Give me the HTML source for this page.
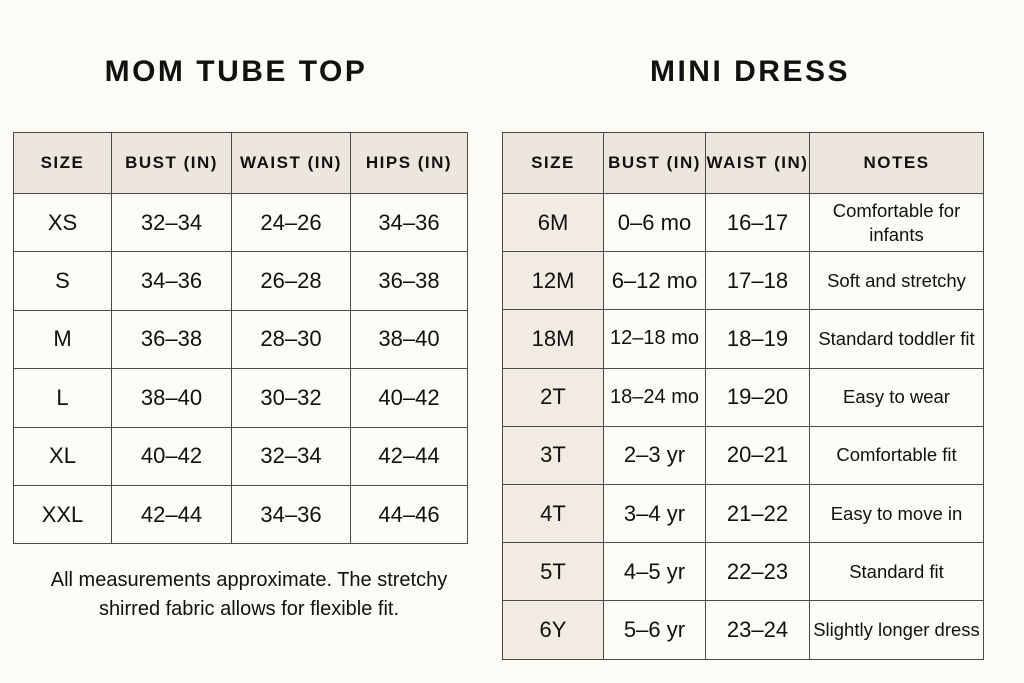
<!DOCTYPE html>
<html><head><meta charset="utf-8"><style>
body{margin:0;width:1024px;height:683px;background:#fcfbf5;font-family:"Liberation Sans","DejaVu Sans",sans-serif;color:#111;position:relative;overflow:hidden}
h1{position:absolute;margin:0;font-size:30px;font-weight:bold;letter-spacing:2.5px;top:55px;text-align:center;color:#111}
table{position:absolute;border-collapse:collapse;table-layout:fixed}
td{border:1.5px solid #4a4a4a;text-align:center;padding:0;font-size:22px}
tr.h td{background:#ede6dc;font-weight:bold;font-size:17px;letter-spacing:1.5px;height:60px}
td.s{background:#f1ebe2}
td.n{font-size:18.5px;line-height:24px}
p{position:absolute;margin:0;left:0;width:498px;top:566px;text-align:center;font-size:20px;line-height:29px;color:#111}
</style></head><body>
<h1 style="left:0;width:472px">MOM TUBE TOP</h1>
<h1 style="left:502px;width:496px">MINI DRESS</h1>
<table style="left:13px;top:132px;width:454px">
<colgroup><col style="width:98px"><col style="width:120px"><col style="width:119px"><col style="width:117px"></colgroup>
<tr class="h"><td>SIZE</td><td>BUST (IN)</td><td>WAIST (IN)</td><td>HIPS (IN)</td></tr>
<tr style="height:58.4px"><td>XS</td><td>32–34</td><td>24–26</td><td>34–36</td></tr>
<tr style="height:58.4px"><td>S</td><td>34–36</td><td>26–28</td><td>36–38</td></tr>
<tr style="height:58.4px"><td>M</td><td>36–38</td><td>28–30</td><td>38–40</td></tr>
<tr style="height:58.4px"><td>L</td><td>38–40</td><td>30–32</td><td>40–42</td></tr>
<tr style="height:58.4px"><td>XL</td><td>40–42</td><td>32–34</td><td>42–44</td></tr>
<tr style="height:58.4px"><td>XXL</td><td>42–44</td><td>34–36</td><td>44–46</td></tr>
</table>
<p>All measurements approximate. The stretchy<br>shirred fabric allows for flexible fit.</p>
<table style="left:502px;top:132px;width:481px">
<colgroup><col style="width:101px"><col style="width:102px"><col style="width:104px"><col style="width:174px"></colgroup>
<tr class="h"><td>SIZE</td><td>BUST (IN)</td><td>WAIST (IN)</td><td>NOTES</td></tr>
<tr style="height:58.2px"><td class="s">6M</td><td>0–6 mo</td><td>16–17</td><td class="n">Comfortable for<br>infants</td></tr>
<tr style="height:58.2px"><td class="s">12M</td><td>6–12 mo</td><td>17–18</td><td class="n">Soft and stretchy</td></tr>
<tr style="height:58.2px"><td class="s">18M</td><td style="font-size:20px">12–18 mo</td><td>18–19</td><td class="n">Standard toddler fit</td></tr>
<tr style="height:58.2px"><td class="s">2T</td><td style="font-size:20px">18–24 mo</td><td>19–20</td><td class="n">Easy to wear</td></tr>
<tr style="height:58.2px"><td class="s">3T</td><td>2–3 yr</td><td>20–21</td><td class="n">Comfortable fit</td></tr>
<tr style="height:58.2px"><td class="s">4T</td><td>3–4 yr</td><td>21–22</td><td class="n">Easy to move in</td></tr>
<tr style="height:58.2px"><td class="s">5T</td><td>4–5 yr</td><td>22–23</td><td class="n">Standard fit</td></tr>
<tr style="height:58.2px"><td class="s">6Y</td><td>5–6 yr</td><td>23–24</td><td class="n">Slightly longer dress</td></tr>
</table>
</body></html>
